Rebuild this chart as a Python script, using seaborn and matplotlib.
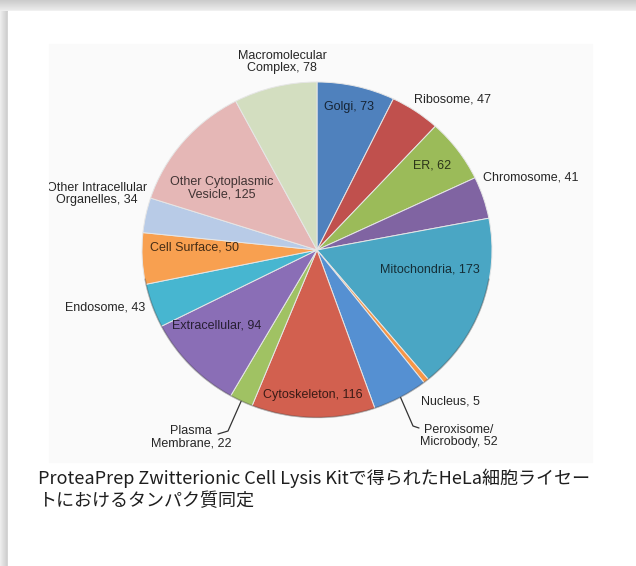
import numpy as np
import matplotlib
matplotlib.use("Agg")
import matplotlib.pyplot as plt
import matplotlib.colors as mcolors
from matplotlib.transforms import Bbox, TransformedBbox
import seaborn as sns

# ---------------- data ----------------
categories = ["Golgi", "Ribosome", "ER", "Chromosome", "Mitochondria", "Nucleus",
              "Peroxisome/\nMicrobody", "Cytoskeleton", "Plasma\nMembrane", "Extracellular",
              "Endosome", "Cell Surface", "Other Intracellular\nOrganelles",
              "Other Cytoplasmic\nVesicle", "Macromolecular\nComplex"]
counts = [73, 47, 62, 41, 173, 5, 52, 116, 22, 94, 43, 50, 34, 125, 78]
wedge_colors = ["#4F81BD", "#C0504D", "#9BBB59", "#8064A2", "#4AA6C4", "#F79646",
                "#5590D2", "#D2604F", "#A0C263", "#8A6EB6", "#47B6D0", "#F8A050",
                "#B8CBE7", "#E5B7B6", "#D3DEC0"]
caption_lines = ["ProteaPrep Zwitterionic Cell Lysis Kitで得られたHeLa細胞ライセー",
                 "トにおけるタンパク質同定"]

# ---------------- layout (pixel coordinates of label centres) ----------------
label_layout = {
    0: (349, 107, True), 1: (452, 100, False), 2: (432, 165, True),
    3: (531, 177, False), 4: (430, 269, True), 5: (450, 402, False),
    6: (459, 436, False), 7: (313, 395, True), 8: (191, 437, False),
    9: (217, 326, True), 10: (105, 308, False), 11: (194, 248, True),
    12: (97, 194, False), 13: (222, 188, True), 14: (282, 62, False),
}
leaders = {6: (413, 426, 419, 428), 8: (228, 431, 218, 434)}

W, H = 636, 566
sns.set_theme(style="white")
plt.rcParams["font.family"] = ["Liberation Sans", "DejaVu Sans"]

fig = plt.figure(figsize=(W / 100, H / 100), dpi=100)
fig.patch.set_facecolor("white")

# background axes in pixel coordinates
bg = fig.add_axes([0, 0, 1, 1], zorder=0)
top = np.linspace(0.80, 0.93, 12)[:, None] * np.ones((1, 50))
bg.imshow(np.dstack([top] * 3), extent=(0, W, 11, 0), aspect="auto", zorder=0)
left = np.linspace(0.93, 0.80, 8)[None, :] * np.ones((50, 1))
bg.imshow(np.dstack([left] * 3), extent=(0, 8, H, 11), aspect="auto", zorder=0)
bg.add_patch(plt.Rectangle((8, 11), W - 8, H - 11, color="white", zorder=1))
bg.add_patch(plt.Rectangle((49, 44), 543, 418, color="#fafafa", zorder=1))
bg.set_xlim(0, W)
bg.set_ylim(H, 0)
bg.axis("off")

# pie axes
cx, cy, rx, ry = 317, 250, 175, 168
ax = fig.add_axes([(cx - rx) / W, (H - cy - ry) / H, 2 * rx / W, 2 * ry / H], zorder=1)
palette = sns.color_palette(wedge_colors)
wedges, _ = ax.pie(counts, colors=palette, startangle=90, counterclock=False,
                   radius=1.0, wedgeprops=dict(edgecolor="#e6e6e6", linewidth=0.7))
ax.set_aspect("auto")
ax.set_xlim(-1, 1)
ax.set_ylim(-1, 1)
ax.axis("off")

theta = np.linspace(np.radians(190), np.radians(350), 200)
ax.plot(np.cos(theta) * 0.997, np.sin(theta) * 0.997, color="#3a3a3a", lw=1.0, alpha=0.35)

# overlay axes for text and leader lines (pixel coordinates)
ov = fig.add_axes([0, 0, 1, 1], zorder=2)
ov.set_xlim(0, W)
ov.set_ylim(H, 0)
ov.axis("off")
ov.patch.set_alpha(0)


def to_px(x, y):
    return cx + x * rx, cy - y * ry


for i, (cat, n) in enumerate(zip(categories, counts)):
    x, y, inside = label_layout[i]
    txt = f"{cat}, {n}"
    if inside:
        col = tuple(np.array(mcolors.to_rgb(wedge_colors[i])) * 0.28)
    else:
        col = "#262626"
    t = ov.text(x, y, txt, ha="center", va="center", fontsize=9, color=col,
                linespacing=1.05, multialignment="center")
    if i == 12:
        t.set_clip_on(True)
        t.set_clip_box(TransformedBbox(Bbox.from_extents(49 / W, 0, 1, 1), fig.transFigure))

for i, (mx, my, ex, ey) in leaders.items():
    w = wedges[i]
    ang = np.radians((w.theta1 + w.theta2) / 2)
    px, py = to_px(np.cos(ang), np.sin(ang))
    ov.plot([px, mx, ex], [py, my, ey], color="#333333", lw=0.9)

# caption
for i, line in enumerate(caption_lines):
    ov.text(38, 478 + i * 23, line, ha="left", va="center", fontsize=13,
            color="#1e1e1e", family=["Noto Sans CJK JP", "DejaVu Sans"])

fig.savefig("out.png", dpi=100)
